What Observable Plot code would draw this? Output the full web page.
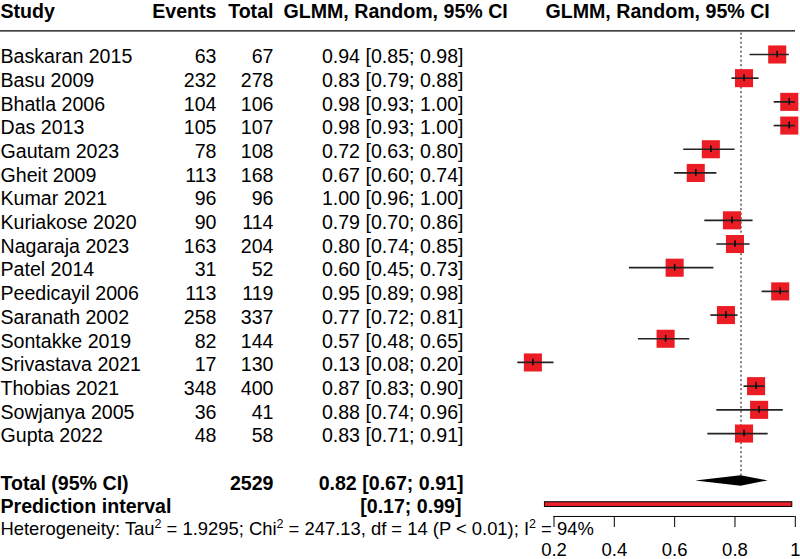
<!DOCTYPE html>
<html><head><meta charset="utf-8">
<script src="https://cdn.jsdelivr.net/npm/d3@7"></script>
<script src="https://cdn.jsdelivr.net/npm/@observablehq/plot@0.6"></script>
<style>body{margin:0;background:#fff} svg{display:block}</style>
</head><body><div id="chart"></div>
<script>
// ---- data ----
const studies = ["Baskaran 2015","Basu 2009","Bhatla 2006","Das 2013","Gautam 2023","Gheit 2009","Kumar 2021","Kuriakose 2020","Nagaraja 2023","Patel 2014","Peedicayil 2006","Saranath 2002","Sontakke 2019","Srivastava 2021","Thobias 2021","Sowjanya 2005","Gupta 2022"];
const events = [63,232,104,105,78,113,96,90,163,31,113,258,82,17,348,36,48];
const totals = [67,278,106,107,108,168,96,114,204,52,119,337,144,130,400,41,58];
const est   = [0.94,0.83,0.98,0.98,0.72,0.67,1.00,0.79,0.80,0.60,0.95,0.77,0.57,0.13,0.87,0.88,0.83];
const lower = [0.85,0.79,0.93,0.93,0.63,0.60,0.96,0.70,0.74,0.45,0.89,0.72,0.48,0.08,0.83,0.74,0.71];
const upper = [0.98,0.88,1.00,1.00,0.80,0.74,1.00,0.86,0.85,0.73,0.98,0.81,0.65,0.20,0.90,0.96,0.91];
const pooled = [0.82, 0.67, 0.91];          // estimate, lower, upper
const predInterval = [0.17, 0.99];
const heterogeneity = "Heterogeneity: Tau² = 1.9295; Chi² = 247.13, df = 14 (P < 0.01); I² = 94%";
const xTicks = [0.2, 0.4, 0.6, 0.8, 1];
const headers = ["Study", "Events", "Total", "GLMM, Random, 95% CI", "GLMM, Random, 95% CI"];
const totalLabel = "Total (95% CI)";
const predLabel = "Prediction interval";

// ---- layout ----
const rows = ["header", "rule", ...studies, "blank", "total", "prediction", "heterogeneity"];
const row = k => rows.indexOf(k);
const fmt = d3.format(".2f");
const table = studies.map((s, i) => ({
  study: s, events: String(events[i]), total: String(totals[i]), est: est[i], lower: lower[i], upper: upper[i],
  ev: events[i], n: totals[i],
  y: row(s), label: `${fmt(est[i])} [${fmt(lower[i])}; ${fmt(upper[i])}]`
}));
const drawn = table.filter(d => d.ev < d.n); // proportion of 1 cannot be drawn on logit scale
const col = {study: 0, events: 216, total: 273, ci: 463, ciHead: 283, plotHead: 545};
const DY = 2.5, HDY = 4.6, HET_DY = 0.5;
const FS = 19.6, HET_FS = 18.4, TICK_FS = 18.5;
const font = "'Liberation Sans', Arial, Helvetica, sans-serif";

const txt = (data, o) => Plot.text(data, {frameAnchor: "left", dy: DY, fill: "black", ...o});
const hdr = (i, anchor, dx) => txt([headers[i]], {text: d => d, y: row("header"), textAnchor: anchor, dx, dy: HDY, fontWeight: "bold"});

const tRow = row("total"), pRow = row("prediction");
const diamond = [
  {y: tRow - 0.22, x1: pooled[0], x2: pooled[0]},
  {y: tRow, x1: pooled[1], x2: pooled[2]},
  {y: tRow + 0.22, x1: pooled[0], x2: pooled[0]}
];

const chart = Plot.plot({
  width: 800, height: 559,
  marginLeft: 0, marginRight: 5, marginTop: 0, marginBottom: 43,
  style: {fontFamily: font, fontSize: FS + "px", background: "white", color: "black", overflow: "visible"},
  x: {domain: [xTicks[0], xTicks[xTicks.length - 1]], range: [553.5, 794.8]},
  y: {domain: [0, rows.length - 1], range: [6.6, 527.8], axis: null},
  marks: [
    // header
    hdr(0, "start", col.study),
    hdr(1, "end", col.events),
    hdr(2, "end", col.total),
    hdr(3, "start", col.ciHead),
    hdr(4, "start", col.plotHead),
    Plot.ruleY([row("rule")], {stroke: "black", strokeWidth: 1.2}),
    // reference line at pooled estimate
    Plot.ruleX([pooled[0]], {y1: row("rule") + 0.1, y2: tRow - 0.22, stroke: "black", strokeWidth: 1, strokeDasharray: "2,2.5"}),
    // study rows text
    txt(table, {y: "y", text: "study", textAnchor: "start", dx: col.study}),
    txt(table, {y: "y", text: "events", textAnchor: "end", dx: col.events}),
    txt(table, {y: "y", text: "total", textAnchor: "end", dx: col.total}),
    txt(table, {y: "y", text: "label", textAnchor: "end", dx: col.ci}),
    // boxes, CIs, estimate ticks
    Plot.dot(drawn, {x: "est", y: "y", symbol: "square", r: 10.2, fill: "#EC1C24", stroke: "none"}),
    Plot.ruleY(drawn, {y: "y", x1: "lower", x2: "upper", stroke: "#222", strokeWidth: 1.7}),
    Plot.ruleX(drawn, {x: "est", y1: d => d.y - 0.14, y2: d => d.y + 0.14, stroke: "black", strokeWidth: 1.5}),
    // total
    txt([totalLabel], {text: d => d, y: tRow, textAnchor: "start", dx: col.study, fontWeight: "bold"}),
    txt([d3.sum(totals)], {text: d => String(d), y: tRow, textAnchor: "end", dx: col.total, fontWeight: "bold"}),
    txt([pooled], {text: d => `${fmt(d[0])} [${fmt(d[1])}; ${fmt(d[2])}]`, y: tRow, textAnchor: "end", dx: col.ci, fontWeight: "bold"}),
    Plot.areaX(diamond, {y: "y", x1: "x1", x2: "x2", fill: "black"}),
    // prediction interval
    txt([predLabel], {text: d => d, y: pRow, textAnchor: "start", dx: col.study, fontWeight: "bold"}),
    txt([predInterval], {text: d => `[${fmt(d[0])}; ${fmt(d[1])}]`, y: pRow, textAnchor: "end", dx: col.ci - 2, fontWeight: "bold"}),
    Plot.rect([predInterval], {x1: d => d[0], x2: d => d[1], y1: pRow - 0.1, y2: pRow + 0.1, fill: "#E8212A", stroke: "black", strokeWidth: 1}),
    // heterogeneity
    txt([heterogeneity], {text: d => d, y: row("heterogeneity"), textAnchor: "start", dx: col.study, dy: HET_DY, fontSize: HET_FS}),
    // axis
    Plot.ruleY([row("heterogeneity") - 0.5], {x1: xTicks[0], x2: xTicks[xTicks.length - 1], stroke: "black", strokeWidth: 1}),
    Plot.axisX({anchor: "bottom", ticks: xTicks, tickSize: 11, tickPadding: 15, tickFormat: d => String(d), fontSize: TICK_FS, stroke: "black", fill: "black"})
  ]
});

// render the "²" in the heterogeneity line as real superscripts
d3.select(chart).selectAll("text").each(function () {
  if (this.textContent !== heterogeneity) return;
  const parts = heterogeneity.split("²");
  const el = d3.select(this);
  el.text(null);
  parts.forEach((p, i) => {
    el.append("tspan").text(p).attr("dy", i ? 6.5 : null);
    if (i < parts.length - 1) el.append("tspan").text("2").attr("font-size", 12.5).attr("dy", -6.5);
  });
});
document.getElementById("chart").appendChild(chart);
</script>
</body></html>
